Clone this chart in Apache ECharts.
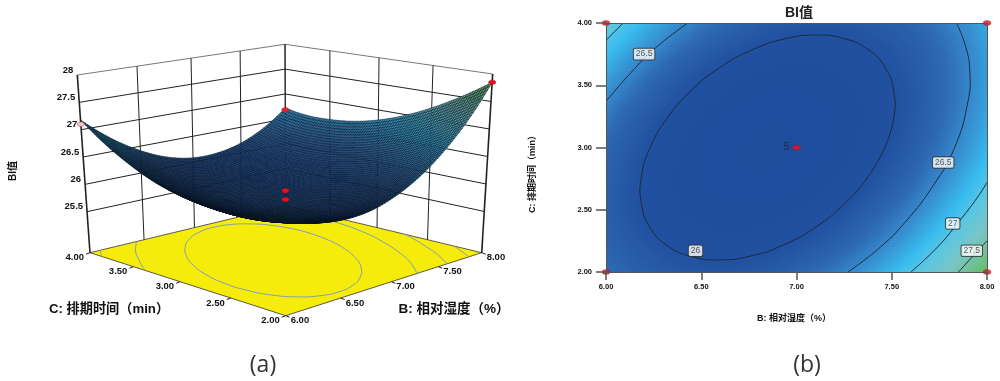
<!DOCTYPE html>
<html>
<head>
<meta charset="utf-8">
<style>html,body{margin:0;padding:0;background:#fff}#main{width:1000px;height:381px}</style>
<script src="https://cdn.jsdelivr.net/npm/echarts@6/dist/echarts.min.js"></script>
</head>
<body>
<div id="main"></div>
<script>
var FONT = '"Liberation Sans","Noto Sans CJK SC",sans-serif';

// values, rows run from C=2.00 up to C=4.00
var bValues = [6, 6.25, 6.5, 6.75, 7, 7.25, 7.5, 7.75, 8];
var cValues = [2, 2.25, 2.5, 2.75, 3, 3.25, 3.5, 3.75, 4];
var biValues = [
    [26.34, 26.16, 26.08, 26.10, 26.24, 26.48, 26.83, 27.28, 27.85],
    [26.24, 26.03, 25.92, 25.91, 26.01, 26.22, 26.54, 26.97, 27.50],
    [26.20, 25.95, 25.81, 25.78, 25.85, 26.03, 26.32, 26.71, 27.21],
    [26.22, 25.94, 25.77, 25.70, 25.74, 25.89, 26.15, 26.51, 26.98],
    [26.29, 25.98, 25.78, 25.68, 25.70, 25.81, 26.04, 26.37, 26.81],
    [26.42, 26.08, 25.85, 25.72, 25.71, 25.79, 25.99, 26.29, 26.70],
    [26.62, 26.25, 25.98, 25.82, 25.78, 25.83, 26.00, 26.27, 26.65],
    [26.87, 26.47, 26.17, 25.98, 25.90, 25.93, 26.06, 26.30, 26.65],
    [27.18, 26.74, 26.42, 26.20, 26.09, 26.09, 26.19, 26.40, 26.72]
];

// contour lines as [B, C]
var contour26 = [[7.464,3],[7.51,3.234],[7.51,3.452],[7.466,3.639],[7.38,3.782],[7.256,3.872],[7.106,3.903],[6.938,3.872],[6.764,3.782],[6.595,3.639],[6.444,3.452],[6.32,3.234],[6.232,3],[6.186,2.766],[6.186,2.548],[6.23,2.361],[6.316,2.218],[6.44,2.128],[6.59,2.097],[6.758,2.128],[6.932,2.218],[7.101,2.361],[7.252,2.548],[7.376,2.766],[7.464,3]];
var contour265a = [[6,3.37],[6.13,3.6],[6.26,3.8],[6.43,4]];
var contour265b = [[7.84,4],[7.89,3.8],[7.91,3.6],[7.9,3.37],[7.83,3],[7.72,2.7],[7.57,2.4],[7.44,2.2],[7.27,2]];
var contour27a = [[6,3.86],[6.09,4]];
var contour27b = [[7.6,2],[7.74,2.2],[7.85,2.4],[7.95,2.6],[8,2.72]];
var contour275 = [[7.85,2],[7.91,2.1],[7.97,2.2],[8,2.25]];
var contourLines = [contour26, contour265a, contour265b, contour27a, contour27b, contour275];
var contourLabels = [[6.2,3.75,'26.5'],[7.77,2.88,'26.5'],[7.82,2.39,'27'],[7.92,2.17,'27.5'],[6.47,2.17,'26']];

var designPoints2d = [[6,2],[6,4],[8,2],[8,4],[7,3]];
var designPoints3d = [[8,4,26.68,'#e8202a'],[6,4,27.1,'#f5c4c8'],[8,2,27.85,'#e8101a'],[7,3,25.72,'#e8101a'],[7,3,25.88,'#e8101a']];

var bTicks = [6, 6.5, 7, 7.5, 8];
var cTicks = [2, 2.5, 3, 3.5, 4];
var zTicks = [25.5, 26, 26.5, 27, 27.5, 28];

// colour ramp of the response value
var rampZ = [25.6, 26.0, 26.3, 26.5, 26.85, 27.05, 27.35, 27.85];
var rampC = [[30,76,158],[33,80,160],[45,104,178],[54,134,202],[56,188,240],[90,198,226],[120,198,196],[102,187,96]];

function colorAt(z, k) {
    var i = 0;
    while (i < rampZ.length - 2 && z > rampZ[i + 1]) i++;
    var t = Math.max(0, Math.min(1, (z - rampZ[i]) / (rampZ[i + 1] - rampZ[i])));
    var c = [0, 1, 2].map(function (n) {
        return Math.round((rampC[i][n] + (rampC[i + 1][n] - rampC[i][n]) * t) * k);
    });
    return 'rgb(' + c.join(',') + ')';
}

// shade between the read values
function cubic(a, b, c, d, t) {
    return b + 0.5 * t * (c - a + t * (2 * a - 5 * b + 4 * c - d + t * (3 * (b - c) + d - a)));
}
function rowAt(r, f, i) {
    var n = r.length;
    var a = i > 0 ? r[i - 1] : 3 * r[0] - 3 * r[1] + r[2];
    var d = i < n - 2 ? r[i + 2] : 3 * r[n - 1] - 3 * r[n - 2] + r[n - 3];
    return cubic(a, r[i], r[i + 1], d, f);
}
function sampleZ(ib, ic, fb, fc) {
    var col = biValues.map(function (r) { return rowAt(r, fb, ib); });
    return rowAt(col, fc, ic);
}

// perspective box of the 3D panel: corners in order (B6,C2) (B8,C2) (B8,C4) (B6,C4)
var floorQuad = [[285.7,315.7],[481.7,252.7],[285.7,205.7],[90,252.7]];
var topQuad = [[285.3,120.7],[492.7,74],[285,44.3],[77.3,75]];
var zFloor = 24.75, zTop = 28;

function quadMap(q) {
    var dx1 = q[1][0] - q[2][0], dx2 = q[3][0] - q[2][0], sx = q[0][0] - q[1][0] + q[2][0] - q[3][0];
    var dy1 = q[1][1] - q[2][1], dy2 = q[3][1] - q[2][1], sy = q[0][1] - q[1][1] + q[2][1] - q[3][1];
    var den = dx1 * dy2 - dx2 * dy1;
    var g = (sx * dy2 - dx2 * sy) / den, h = (dx1 * sy - sx * dy1) / den;
    var a = q[1][0] - q[0][0] + g * q[1][0], b = q[3][0] - q[0][0] + h * q[3][0];
    var d = q[1][1] - q[0][1] + g * q[1][1], e = q[3][1] - q[0][1] + h * q[3][1];
    return function (u, v) {
        var w = g * u + h * v + 1;
        return [(a * u + b * v + q[0][0]) / w, (d * u + e * v + q[0][1]) / w];
    };
}
var floorMap = quadMap(floorQuad), topMap = quadMap(topQuad);
function project(b, c, z) {
    var u = (b - 6) / 2, v = (c - 2) / 2, t = (z - zFloor) / (zTop - zFloor);
    var p0 = floorMap(u, v), p1 = topMap(u, v);
    return [p0[0] + (p1[0] - p0[0]) * t, p0[1] + (p1[1] - p0[1]) * t];
}

function line3d(pts, color, width) {
    return { type: 'polyline', silent: true, shape: { points: pts }, style: { stroke: color, lineWidth: width, fill: null } };
}
function label3d(p, text, align, size) {
    return { type: 'text', silent: true, x: p[0], y: p[1], style: { text: text, align: align, verticalAlign: 'middle', fill: '#111', font: 'bold ' + size + 'px ' + FONT } };
}

function renderFrame() {
    var ch = [];
    // floor
    ch.push({ type: 'polygon', silent: true, shape: { points: [project(6,2,zFloor), project(8,2,zFloor), project(8,4,zFloor), project(6,4,zFloor)] }, style: { fill: '#f6ec0c', stroke: '#333', lineWidth: 0.8 } });
    contourLines.forEach(function (l) {
        var pts = l.map(function (p) { return project(p[0], p[1], zFloor); });
        ch.push({ type: 'polyline', silent: true, shape: { points: pts, smooth: 0.5 }, style: { stroke: '#7d9fb4', lineWidth: 1, fill: null } });
    });
    // walls
    zTicks.forEach(function (z) {
        ch.push(line3d([project(6,4,z), project(8,4,z), project(8,2,z)], z === 28 ? '#777' : '#222', 1));
    });
    bTicks.forEach(function (b) {
        ch.push(line3d([project(b,4,zFloor), project(b,4,zTop)], '#222', b === 6 ? 1.6 : 1));
    });
    cTicks.forEach(function (c) {
        ch.push(line3d([project(8,c,zFloor), project(8,c,zTop)], '#222', c === 2 ? 1.6 : 1));
    });
    // tick labels
    zTicks.forEach(function (z) {
        var p = project(6, 4, z);
        ch.push(label3d([p[0] - 4, p[1] - 5], String(z), 'right', 9.5));
    });
    cTicks.forEach(function (c) {
        var p = project(6, c, zFloor);
        ch.push(line3d([p, [p[0] - 4, p[1] + 1.5]], '#222', 1));
        ch.push(label3d([p[0] - 6, p[1] + 5], c.toFixed(2), 'right', 9.5));
    });
    bTicks.forEach(function (b) {
        var p = project(b, 2, zFloor);
        ch.push(line3d([p, [p[0] + 4, p[1] + 1.5]], '#222', 1));
        ch.push(label3d([p[0] + 5, p[1] + 5], b.toFixed(2), 'left', 9.5));
    });
    return { type: 'group', children: ch };
}

var SUB3D = 10, SUB2D_X = 16, SUB2D_Y = 10;

// one mesh cell of the surface per data item
function renderSurface(params, api) {
    var ib = api.value(0), ic = api.value(1), ch = [];
    for (var j = SUB3D - 1; j >= 0; j--) {
        for (var i = SUB3D - 1; i >= 0; i--) {
            var pts = [[i, j], [i + 1, j], [i + 1, j + 1], [i, j + 1]].map(function (s) {
                return project(bValues[ib] + 0.25 * s[0] / SUB3D, cValues[ic] + 0.25 * s[1] / SUB3D,
                    sampleZ(ib, ic, s[0] / SUB3D, s[1] / SUB3D));
            });
            var z = sampleZ(ib, ic, (i + 0.5) / SUB3D, (j + 0.5) / SUB3D);
            ch.push({ type: 'polygon', silent: true, shape: { points: pts }, style: { fill: colorAt(z, 0.8), stroke: '#06121e', lineWidth: 0.45 } });
        }
    }
    return { type: 'group', children: ch };
}

// one filled cell of the contour map per data item, edges snapped to whole pixels
function renderCell(params, api) {
    var ib = api.value(0), ic = api.value(1), ch = [];
    for (var j = 0; j < SUB2D_Y; j++) {
        for (var i = 0; i < SUB2D_X; i++) {
            var p0 = api.coord([bValues[ib] + 0.25 * i / SUB2D_X, cValues[ic] + 0.25 * (j + 1) / SUB2D_Y]);
            var p1 = api.coord([bValues[ib] + 0.25 * (i + 1) / SUB2D_X, cValues[ic] + 0.25 * j / SUB2D_Y]);
            var x0 = Math.round(p0[0]), y0 = Math.round(p0[1]);
            var z = sampleZ(ib, ic, (i + 0.5) / SUB2D_X, (j + 0.5) / SUB2D_Y);
            ch.push({ type: 'rect', silent: true, shape: { x: x0, y: y0, width: Math.round(p1[0]) - x0, height: Math.round(p1[1]) - y0 }, style: { fill: colorAt(z, 1) } });
        }
    }
    return { type: 'group', children: ch };
}

// line series clamps its smoothing at turning points, so the closed contours go through a custom polyline
function renderContour(params, api) {
    var pts = contourLines[params.dataIndex].map(function (p) { return api.coord(p); });
    return { type: 'polyline', silent: true, shape: { points: pts, smooth: 0.5 }, style: { stroke: '#1b2c3c', lineWidth: 1, fill: null } };
}

var cellData = [];
for (var ic = cValues.length - 2; ic >= 0; ic--) {
    for (var ib = bValues.length - 2; ib >= 0; ib--) {
        cellData.push([ib, ic, biValues[ic][ib]]);
    }
}

var series = [
    { type: 'custom', coordinateSystem: 'none', renderItem: renderFrame, data: [[0]], silent: true, animation: false, z: 1 },
    { type: 'custom', coordinateSystem: 'none', renderItem: renderSurface, data: cellData, silent: true, animation: false, progressive: 0, z: 2 },
    {
        type: 'custom', coordinateSystem: 'none', data: designPoints3d, silent: true, animation: false, z: 3,
        renderItem: function (params, api) {
            var d = designPoints3d[params.dataIndex], p = project(d[0], d[1], d[2]);
            return { type: 'ellipse', silent: true, shape: { cx: p[0], cy: p[1], rx: 3.6, ry: 2.3 }, style: { fill: d[3], stroke: '#7a1a1a', lineWidth: 0.4 } };
        }
    },
    { type: 'custom', xAxisIndex: 0, yAxisIndex: 0, coordinateSystem: 'cartesian2d', renderItem: renderCell, data: cellData, encode: { x: 0, y: 1 }, silent: true, animation: false, progressive: 0, clip: true, z: 2 },
    { type: 'custom', xAxisIndex: 0, yAxisIndex: 0, coordinateSystem: 'cartesian2d', renderItem: renderContour, data: contourLines.map(function (l) { return l[0]; }), encode: { x: 0, y: 1 }, silent: true, animation: false, clip: true, z: 3 }
];
series.push({
    type: 'scatter', xAxisIndex: 0, yAxisIndex: 0, data: contourLabels, symbolSize: 0, silent: true, animation: false, z: 4,
    label: { show: true, position: 'inside', formatter: function (p) { return p.value[2]; }, fontSize: 8.5, fontFamily: FONT, color: '#333', backgroundColor: '#fff', borderColor: '#333', borderWidth: 1, borderRadius: 1.5, padding: [1, 2] }
});
series.push({
    type: 'scatter', xAxisIndex: 0, yAxisIndex: 0, data: designPoints2d, symbol: 'circle', symbolSize: [8, 5], clip: false, silent: true, animation: false, z: 5,
    itemStyle: { color: '#e8101a', borderColor: '#7a1a1a', borderWidth: 0.4 },
    label: { show: true, position: 'left', distance: 3, fontSize: 10, fontFamily: FONT, color: '#1a2230', formatter: function (p) { return p.value[0] === 7 ? '5' : ''; } }
});

function tickFmt(v) { return v.toFixed(2); }
function sideText(x, y, text, font, rotation, fill) {
    return { type: 'text', silent: true, x: x, y: y, rotation: rotation || 0, style: { text: text, align: 'center', verticalAlign: 'middle', font: font, fill: fill || '#111' } };
}

var option = {
    animation: false,
    title: {
        text: 'BI值', left: 794, top: 1, textAlign: 'center',
        textStyle: { fontFamily: FONT, fontSize: 14, fontWeight: 'bold', color: '#222' }
    },
    grid: { left: 606, top: 23, width: 381, height: 249, containLabel: false },
    xAxis: [
        {
            type: 'value', min: 6, max: 8, interval: 0.5, position: 'bottom', z: 6,
            axisLine: { onZero: false, lineStyle: { color: '#555', width: 1 } },
            axisTick: { length: 8, lineStyle: { color: '#555', width: 1.5 } },
            axisLabel: { margin: 11, formatter: tickFmt, fontSize: 7.5, fontWeight: 'bold', fontFamily: FONT, color: '#111' },
            splitLine: { show: false }
        },
        {
            type: 'value', min: 6, max: 8, interval: 0.5, position: 'top', z: 6,
            axisLine: { onZero: false, lineStyle: { color: '#555', width: 1 } },
            axisTick: { show: false }, axisLabel: { show: false }, splitLine: { show: false }
        }
    ],
    yAxis: [
        {
            type: 'value', min: 2, max: 4, interval: 0.5, position: 'left', z: 6,
            axisLine: { onZero: false, lineStyle: { color: '#555', width: 1 } },
            axisTick: { length: 10, lineStyle: { color: '#555', width: 1.5 } },
            axisLabel: { margin: 14, formatter: tickFmt, fontSize: 7.5, fontWeight: 'bold', fontFamily: FONT, color: '#111' },
            splitLine: { show: false }
        },
        {
            type: 'value', min: 2, max: 4, interval: 0.5, position: 'right', z: 6,
            axisLine: { onZero: false, lineStyle: { color: '#555', width: 1 } },
            axisTick: { show: false }, axisLabel: { show: false }, splitLine: { show: false }
        }
    ],
    graphic: [
        sideText(794, 319, 'B: 相对湿度（%）', 'bold 9px ' + FONT),
        sideText(109, 309, 'C: 排期时间（min）', 'bold 13.2px ' + FONT),
        sideText(454, 309, 'B: 相对湿度（%）', 'bold 13.5px ' + FONT),
        sideText(13, 171, 'BI值', 'bold 10px ' + FONT, Math.PI / 2),
        sideText(533, 172, 'C: 排期时间（min）', 'bold 9px ' + FONT, Math.PI / 2),
        sideText(263, 365, '(a)', '23px "Open Sans",' + FONT, 0, '#333'),
        sideText(807, 365, '(b)', '23px "Open Sans",' + FONT, 0, '#333')
    ],
    series: series
};

var myChart = echarts.init(document.getElementById('main'));
option && myChart.setOption(option);
</script>
</body>
</html>
